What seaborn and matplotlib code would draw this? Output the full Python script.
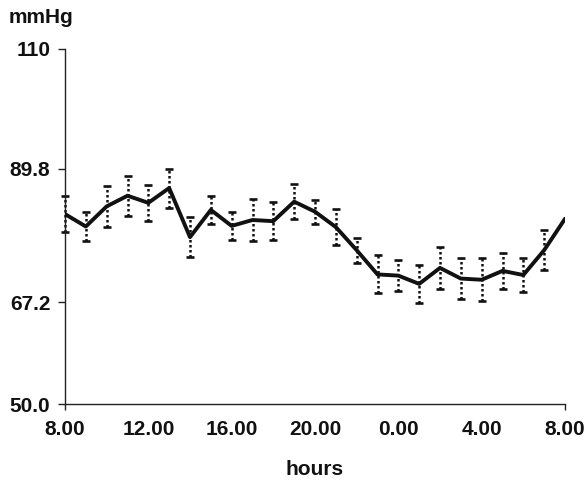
import numpy as np
import pandas as pd
import matplotlib
matplotlib.use("Agg")
import matplotlib.pyplot as plt
import seaborn as sns

# ---- data ----
hours_from_start = list(range(25))  # 8.00 .. 8.00 next day, hourly
pressure = [82.1, 80.0, 83.4, 85.2, 84.0, 86.5, 78.2, 82.8, 80.1, 81.1,
            80.9, 84.2, 82.5, 79.9, 76.0, 71.9, 71.7, 70.3, 73.0, 71.2,
            71.0, 72.5, 71.8, 76.0, 81.3]
error = [3.1, 2.5, 3.4, 3.4, 3.0, 3.3, 3.4, 2.4, 2.3, 3.5,
         3.2, 2.9, 2.0, 3.0, 2.1, 3.2, 2.6, 3.2, 3.6, 3.5,
         3.6, 3.0, 2.9, 3.4, np.nan]
x_tick_pos = [0, 4, 8, 12, 16, 20, 24]
x_tick_labels = ["8.00", "12.00", "16.00", "20.00", "0.00", "4.00", "8.00"]
y_ticks = [50.0, 67.2, 89.8, 110.0]
y_tick_labels = ["50.0", "67.2", "89.8", "110"]

df = pd.DataFrame({"hour": hours_from_start, "mmHg": pressure, "err": error})

sns.set_style("white")
plt.rcParams["font.family"] = ["Liberation Sans", "DejaVu Sans"]
plt.rcParams["font.weight"] = "bold"

FS = 15

fig = plt.figure(figsize=(5.84, 4.83), dpi=100)
ax = fig.add_axes([65 / 584, 1 - 404 / 483, 500 / 584, 355 / 483])

eb = ax.errorbar(df["hour"], df["mmHg"], yerr=df["err"], fmt="none",
                 ecolor="#111111", elinewidth=1.8, capsize=2.6, capthick=1.9,
                 zorder=2)
for lc in eb[2]:
    lc.set_linestyle((0, (1.0, 1.0)))
    lc.set_clip_on(False)
for cap in eb[1]:
    cap.set_clip_on(False)

sns.lineplot(data=df, x="hour", y="mmHg", ax=ax, color="#111111",
             linewidth=2.8, zorder=3, estimator=None)

ax.set_xlim(0, 24)
ax.set_ylim(50, 110)
ax.set_xticks(x_tick_pos)
ax.set_xticklabels(x_tick_labels, fontsize=FS, fontweight="bold", color="#111111")
ax.set_yticks(y_ticks)
ax.set_yticklabels(y_tick_labels, fontsize=FS, fontweight="bold", color="#111111")

ax.tick_params(axis="x", direction="out", length=4, width=1.0, pad=7.5,
               color="#222222", bottom=True)
ax.tick_params(axis="y", direction="out", length=5, width=1.0, pad=5.5,
               color="#222222", left=True)
for t in ax.xaxis.get_major_ticks()[1:-1]:
    t.tick1line.set_visible(False)

for side in ["top", "right"]:
    ax.spines[side].set_visible(False)
for side in ["left", "bottom"]:
    ax.spines[side].set_color("#222222")
    ax.spines[side].set_linewidth(1.0)

ax.set_xlabel("hours", fontsize=FS, fontweight="bold", labelpad=15, color="#111111")
ax.set_ylabel("")
ax.grid(False)

fig.text(9 / 584, 1 - 8 / 483, "mmHg", fontsize=FS, fontweight="bold",
         ha="left", va="top", color="#111111")

fig.savefig("out.png", dpi=100, facecolor="white")
